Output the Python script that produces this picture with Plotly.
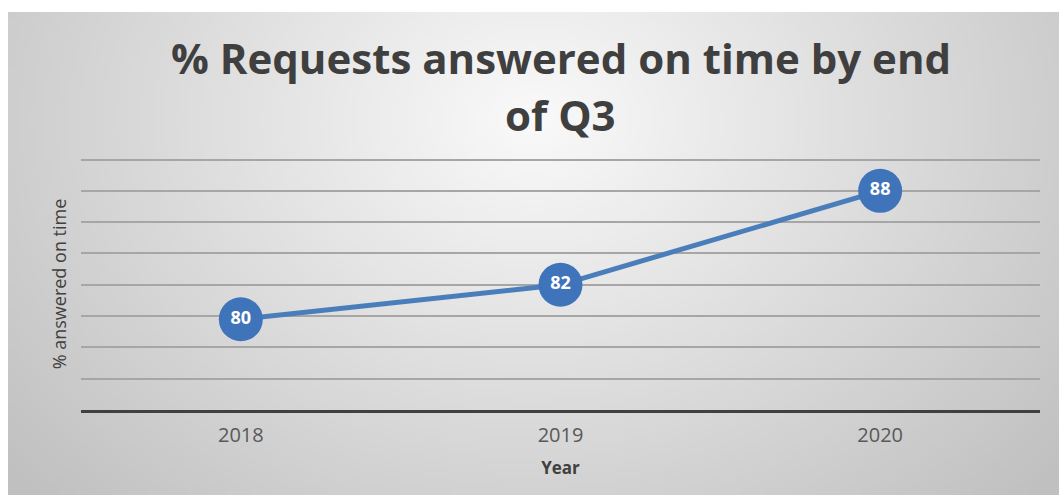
import base64
import struct
import zlib

import plotly.graph_objects as go

# Datos
anios = ["2018", "2019", "2020"]
porcentaje = [79.8, 82.0, 88.0]
titulo_lineas = ["% Requests answered on time by end", "of Q3"]
titulo_y = "% answered on time"
titulo_x = "Year"


# Fondo degradado radial (PNG pequeno generado a mano)
def png_degradado(ancho=212, alto=97):
    filas = b""
    cx, cy = 0.50, 0.22
    for j in range(alto):
        fila = b"\x00"
        for i in range(ancho):
            dx = (i / (ancho - 1) - cx) / 0.55
            dy = (j / (alto - 1) - cy) / 0.95
            r = min((dx * dx + dy * dy) ** 0.5, 1.2)
            v = int(max(0, min(255, 250 - 48 * r)))
            fila += bytes([v, v, v])
        filas += fila

    def chunk(tipo, datos):
        c = tipo + datos
        return struct.pack(">I", len(datos)) + c + struct.pack(">I", zlib.crc32(c) & 0xffffffff)

    png = b"\x89PNG\r\n\x1a\n"
    png += chunk(b"IHDR", struct.pack(">IIBBBBB", ancho, alto, 8, 2, 0, 0, 0))
    png += chunk(b"IDAT", zlib.compress(filas, 9))
    png += chunk(b"IEND", b"")
    return "data:image/png;base64," + base64.b64encode(png).decode()


W, H = 1059, 497
ml, mr, mt, mb = 81, 19, 158, 87
alto_plot = H - mt - mb

fig = go.Figure()

fig.add_trace(go.Scatter(
    x=anios,
    y=porcentaje,
    mode="lines+markers+text",
    line=dict(color="#4a7ebb", width=5),
    marker=dict(size=44, color="#3f74ba", line=dict(width=0)),
    texttemplate="%{y:.0f}",
    textposition="middle center",
    textfont=dict(family="Open Sans", size=18, color="white", weight="bold"),
    showlegend=False,
    hoverinfo="x+y"
))

# Titulo en dos lineas
for i, linea in enumerate(titulo_lineas):
    fig.add_annotation(
        text=linea,
        xref="paper", yref="paper",
        x=0.5, y=1 + (mt - [57, 115][i]) / alto_plot,
        xanchor="center", yanchor="middle",
        showarrow=False,
        font=dict(family="Open Sans", size=42, color="#3f3f3f", weight="bold")
    )

# Fondo
x0 = -(ml - 8) / (W - ml - mr)
x1 = 1 + mr / (W - ml - mr)
y1 = 1 + (mt - 12) / alto_plot
y0 = -(mb - 2) / alto_plot
fig.add_layout_image(
    source=png_degradado(),
    xref="paper", yref="paper",
    x=x0, y=y1,
    sizex=x1 - x0, sizey=y1 - y0,
    xanchor="left", yanchor="top",
    sizing="stretch",
    layer="below"
)

fig.update_layout(
    width=W,
    height=H,
    margin=dict(l=ml, r=mr, t=mt, b=mb, autoexpand=False),
    paper_bgcolor="white",
    plot_bgcolor="rgba(0,0,0,0)",
    xaxis=dict(
        type="category",
        range=[-0.5, 2.5],
        showgrid=False,
        showline=True,
        linecolor="#404040",
        linewidth=3,
        ticks="",
        ticklabelstandoff=5,
        automargin=False,
        tickfont=dict(family="Open Sans", size=20, color="#595959"),
        title=dict(text=titulo_x, font=dict(family="Open Sans", size=17, color="#404040", weight="bold"), standoff=16),
        fixedrange=True
    ),
    yaxis=dict(
        range=[74, 90.1],
        tickvals=[76, 78, 80, 82, 84, 86, 88, 90],
        showticklabels=False,
        showgrid=True,
        gridcolor="#a6a6a6",
        gridwidth=1.5,
        zeroline=False,
        ticks="",
        automargin=False,
        title=dict(text=titulo_y, font=dict(family="Open Sans", size=18, color="#404040"), standoff=8),
        fixedrange=True
    )
)

# Quitamos el margen por defecto del body para que la figura empiece en (0, 0)
fig.write_html(
    "out.html",
    config={"displayModeBar": False},
    post_script="document.body.style.margin='0';"
)
